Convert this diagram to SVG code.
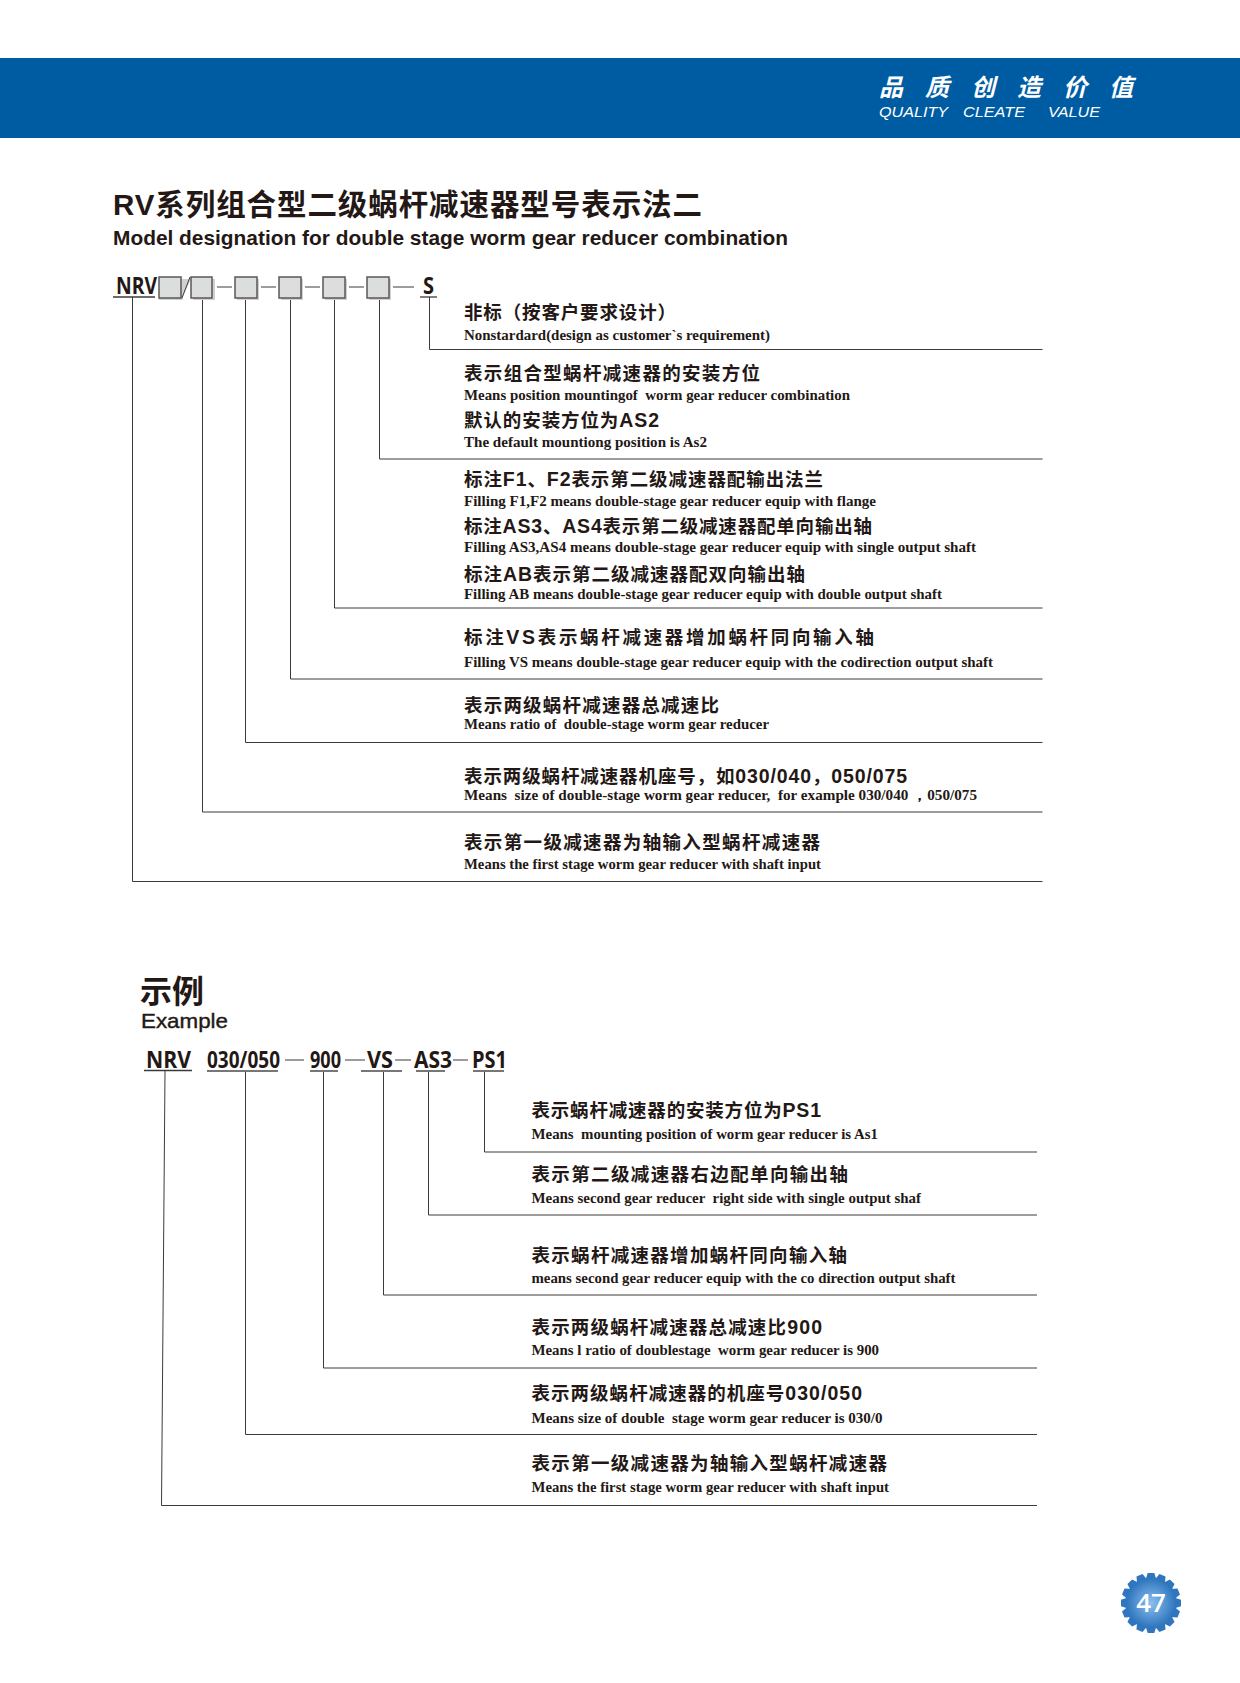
<svg xmlns="http://www.w3.org/2000/svg" width="1240" height="1683" viewBox="0 0 1240 1683">
<style>
text{fill:#231815}
.cn{font-family:"Noto Sans CJK SC","Liberation Sans",sans-serif;font-weight:700;font-size:18.5px}
.l{font-family:"Liberation Sans",sans-serif;font-size:19.5px;letter-spacing:0}
.en{font-family:"Liberation Serif",serif;font-weight:700;font-size:14px;white-space:pre}
.code{font-family:"Open Sans","Liberation Sans",sans-serif;font-weight:700;font-size:24px}
.big{font-family:"Liberation Sans","Noto Sans CJK SC",sans-serif;font-weight:700}
.w{fill:#fff;font-family:"Liberation Sans",sans-serif;font-style:italic;font-size:15px}
.ln{fill:none;stroke:#3e3a39;stroke-width:1}
.ul{stroke:#3e3a39;stroke-width:1.3}
.ex{stroke:#777;stroke-width:2}
.bx{fill:#dcdddd;stroke:#595757;stroke-width:1.5}
.sh{fill:#d0d0d0}
.tooth{fill:#2f76be}
</style>
<defs>
<radialGradient id="g" cx="50%" cy="50%" r="50%"><stop offset="0" stop-color="#8cc0ee"/><stop offset="1" stop-color="#2f76be"/></radialGradient>
<polygon id="t" points="-5.500,-23 -3.300,-30 3.300,-30 5.500,-23"/>
</defs>
<rect width="1240" height="1683" fill="#fff"/>
<g id="header">
<rect x="0" y="58" width="1240" height="80" fill="#005ca2"/>
<text x="879" y="96" font-family="Noto Sans CJK SC,sans-serif" font-weight="700" font-style="italic" font-size="24" textLength="254" style="fill:#fff">品质创造价值</text>
<text class="w" x="879" y="117" textLength="69" lengthAdjust="spacingAndGlyphs">QUALITY</text>
<text class="w" x="963" y="117" textLength="62" lengthAdjust="spacingAndGlyphs">CLEATE</text>
<text class="w" x="1048" y="117" textLength="52" lengthAdjust="spacingAndGlyphs">VALUE</text>
</g>
<g id="title">
<text class="big" x="113" y="215" font-size="29.5" textLength="589">RV系列组合型二级蜗杆减速器型号表示法二</text>
<text class="big" x="113" y="245" font-size="21" textLength="675" lengthAdjust="spacingAndGlyphs">Model designation for double stage worm gear reducer combination</text>
</g>
<g id="connectors">
<path class="ln" d="M132.500 297V881.500H1042.500"/>
<path class="ln" d="M202.500 298V812H1042.500"/>
<path class="ln" d="M245.500 298V742.500H1042.500"/>
<path class="ln" d="M290.500 298V679H1042.500"/>
<path class="ln" d="M334.500 298V608H1042.500"/>
<path class="ln" d="M379.500 298V459H1042.500"/>
<path class="ln" d="M429.500 297V349.500H1042.500"/>
<path class="ln" d="M165 1071L161.500 1505.500H1037"/>
<path class="ln" d="M245.500 1071V1434.500H1037"/>
<path class="ln" d="M323.500 1071V1368H1037"/>
<path class="ln" d="M383.500 1071V1295H1037"/>
<path class="ln" d="M428.500 1071V1215H1037"/>
<path class="ln" d="M484.500 1071V1152H1037"/>
</g>
<g id="code-pattern">
<text class="code" x="116" y="294" textLength="41" lengthAdjust="spacingAndGlyphs">NRV</text>
<path class="ul" d="M113 297H155"/>
<path class="sh" d="M181 279h10l-9 19h-23v2h22z"/>
<g id="boxes">
<rect class="sh" x="161" y="279" width="22" height="21"/>
<rect class="sh" x="193" y="279" width="22" height="21"/>
<rect class="sh" x="237" y="279" width="22" height="21"/>
<rect class="sh" x="281" y="279" width="22" height="21"/>
<rect class="sh" x="325" y="279" width="22" height="21"/>
<rect class="sh" x="369" y="279" width="22" height="21"/>
<rect class="bx" x="159" y="277" width="22" height="21"/>
<rect class="bx" x="191" y="277" width="21" height="21"/>
<rect class="bx" x="235" y="277" width="22" height="21"/>
<rect class="bx" x="279" y="277" width="22" height="21"/>
<rect class="bx" x="323" y="277" width="22" height="21"/>
<rect class="bx" x="367" y="277" width="22" height="21"/>
</g>
<path class="ln" d="M182 298L190 277M217 287H232M261 287H276M305 287H320M349 287H364M393 287H414"/>
<text class="code" x="423" y="294" textLength="11" lengthAdjust="spacingAndGlyphs">S</text>
<path class="ul" d="M420 297H437"/>
</g>
<g id="desc-s">
<text class="cn" x="464" y="319" textLength="212">非标（按客户要求设计）</text>
<text class="en" x="464" y="340" textLength="306" lengthAdjust="spacingAndGlyphs">Nonstardard(design as customer`s requirement)</text>
</g>
<g id="desc-position">
<text class="cn" x="464" y="380" textLength="296">表示组合型蜗杆减速器的安装方位</text>
<text class="en" x="464" y="400" textLength="386" lengthAdjust="spacingAndGlyphs">Means position mountingof  worm gear reducer combination</text>
<text class="cn" x="464" y="427" textLength="195">默认的安装方位为<tspan class="l">AS2</tspan></text>
<text class="en" x="464" y="447" textLength="243" lengthAdjust="spacingAndGlyphs">The default mountiong position is As2</text>
</g>
<g id="desc-output">
<text class="cn" x="464" y="486" textLength="359">标注<tspan class="l">F1</tspan>、<tspan class="l">F2</tspan>表示第二级减速器配输出法兰</text>
<text class="en" x="464" y="506" textLength="412" lengthAdjust="spacingAndGlyphs">Filling F1,F2 means double-stage gear reducer equip with flange</text>
<text class="cn" x="464" y="533" textLength="408">标注<tspan class="l">AS3</tspan>、<tspan class="l">AS4</tspan>表示第二级减速器配单向输出轴</text>
<text class="en" x="464" y="552" textLength="512" lengthAdjust="spacingAndGlyphs">Filling AS3,AS4 means double-stage gear reducer equip with single output shaft</text>
<text class="cn" x="464" y="581" textLength="341">标注<tspan class="l">AB</tspan>表示第二级减速器配双向输出轴</text>
<text class="en" x="464" y="599" textLength="478" lengthAdjust="spacingAndGlyphs">Filling AB means double-stage gear reducer equip with double output shaft</text>
</g>
<g id="desc-vs">
<text class="cn" x="464" y="644" textLength="410">标注<tspan class="l">VS</tspan>表示蜗杆减速器增加蜗杆同向输入轴</text>
<text class="en" x="464" y="667" textLength="529" lengthAdjust="spacingAndGlyphs">Filling VS means double-stage gear reducer equip with the codirection output shaft</text>
</g>
<g id="desc-ratio">
<text class="cn" x="464" y="712" textLength="255">表示两级蜗杆减速器总减速比</text>
<text class="en" x="464" y="729" textLength="305" lengthAdjust="spacingAndGlyphs">Means ratio of  double-stage worm gear reducer</text>
</g>
<g id="desc-size">
<text class="cn" x="464" y="783" textLength="443">表示两级蜗杆减速器机座号，如<tspan class="l">030/040</tspan>，<tspan class="l">050/075</tspan></text>
<text class="en" x="464" y="800" textLength="513" lengthAdjust="spacingAndGlyphs">Means  size of double-stage worm gear reducer,  for example 030/040 ，050/075</text>
</g>
<g id="desc-first">
<text class="cn" x="464" y="849" textLength="356">表示第一级减速器为轴输入型蜗杆减速器</text>
<text class="en" x="464" y="869" textLength="357" lengthAdjust="spacingAndGlyphs">Means the first stage worm gear reducer with shaft input</text>
</g>
<g id="example-title">
<text class="big" x="140" y="1003" font-size="32" textLength="64">示例</text>
<text class="big" x="141" y="1028" font-size="21" textLength="87" lengthAdjust="spacingAndGlyphs" style="font-weight:400;stroke:#231815;stroke-width:.4">Example</text>
</g>
<g id="example-code">
<text class="code" x="146" y="1068" textLength="45" lengthAdjust="spacingAndGlyphs">NRV</text>
<text class="code" x="207" y="1068" textLength="73" lengthAdjust="spacingAndGlyphs">030/050</text>
<text class="code" x="310" y="1068" textLength="31" lengthAdjust="spacingAndGlyphs">900</text>
<text class="code" x="367" y="1068" textLength="26" lengthAdjust="spacingAndGlyphs">VS</text>
<text class="code" x="414" y="1068" textLength="38" lengthAdjust="spacingAndGlyphs">AS3</text>
<text class="code" x="472" y="1068" textLength="35" lengthAdjust="spacingAndGlyphs">PS1</text>
<path class="ul" d="M144 1070.500H192"/>
<path class="ex" d="M207 1071H278M310 1071H338M361 1071H402M416 1071H445M473 1071H504"/>
<path class="ln" d="M285 1060H304M345 1060H365M395 1060H411M453 1060H468"/>
</g>
<g id="ex-position">
<text class="cn" x="531.5" y="1117" textLength="289.500">表示蜗杆减速器的安装方位为<tspan class="l">PS1</tspan></text>
<text class="en" x="531.5" y="1139" textLength="346.500" lengthAdjust="spacingAndGlyphs">Means  mounting position of worm gear reducer is As1</text>
</g>
<g id="ex-output">
<text class="cn" x="531.5" y="1181" textLength="316.500">表示第二级减速器右边配单向输出轴</text>
<text class="en" x="531.5" y="1202.500" textLength="389.500" lengthAdjust="spacingAndGlyphs">Means second gear reducer  right side with single output shaf</text>
</g>
<g id="ex-vs">
<text class="cn" x="531.5" y="1262" textLength="315.500">表示蜗杆减速器增加蜗杆同向输入轴</text>
<text class="en" x="531.5" y="1283" textLength="424" lengthAdjust="spacingAndGlyphs">means second gear reducer equip with the co direction output shaft</text>
</g>
<g id="ex-ratio">
<text class="cn" x="531.5" y="1334" textLength="290.500">表示两级蜗杆减速器总减速比<tspan class="l">900</tspan></text>
<text class="en" x="531.5" y="1355" textLength="347.500" lengthAdjust="spacingAndGlyphs">Means l ratio of doublestage  worm gear reducer is 900</text>
</g>
<g id="ex-size">
<text class="cn" x="531.5" y="1400" textLength="330.500">表示两级蜗杆减速器的机座号<tspan class="l">030/050</tspan></text>
<text class="en" x="531.5" y="1422.500" textLength="351" lengthAdjust="spacingAndGlyphs">Means size of double  stage worm gear reducer is 030/0</text>
</g>
<g id="ex-first">
<text class="cn" x="531.5" y="1470" textLength="355.500">表示第一级减速器为轴输入型蜗杆减速器</text>
<text class="en" x="531.5" y="1492" textLength="357.500" lengthAdjust="spacingAndGlyphs">Means the first stage worm gear reducer with shaft input</text>
</g>
<g id="page-badge">
<g class="tooth" transform="translate(1151 1603)">
<use href="#t"/>
<use href="#t" transform="rotate(22.5)"/>
<use href="#t" transform="rotate(45)"/>
<use href="#t" transform="rotate(67.5)"/>
<use href="#t" transform="rotate(90)"/>
<use href="#t" transform="rotate(112.5)"/>
<use href="#t" transform="rotate(135)"/>
<use href="#t" transform="rotate(157.5)"/>
<use href="#t" transform="rotate(180)"/>
<use href="#t" transform="rotate(202.5)"/>
<use href="#t" transform="rotate(225)"/>
<use href="#t" transform="rotate(247.5)"/>
<use href="#t" transform="rotate(270)"/>
<use href="#t" transform="rotate(292.5)"/>
<use href="#t" transform="rotate(315)"/>
<use href="#t" transform="rotate(337.5)"/>
</g>
<circle cx="1151" cy="1603" r="24.500" fill="url(#g)"/>
<text x="1151" y="1612" text-anchor="middle" font-family="Open Sans,sans-serif" font-size="26" font-weight="600" style="fill:#fff">47</text>
</g>
</svg>
